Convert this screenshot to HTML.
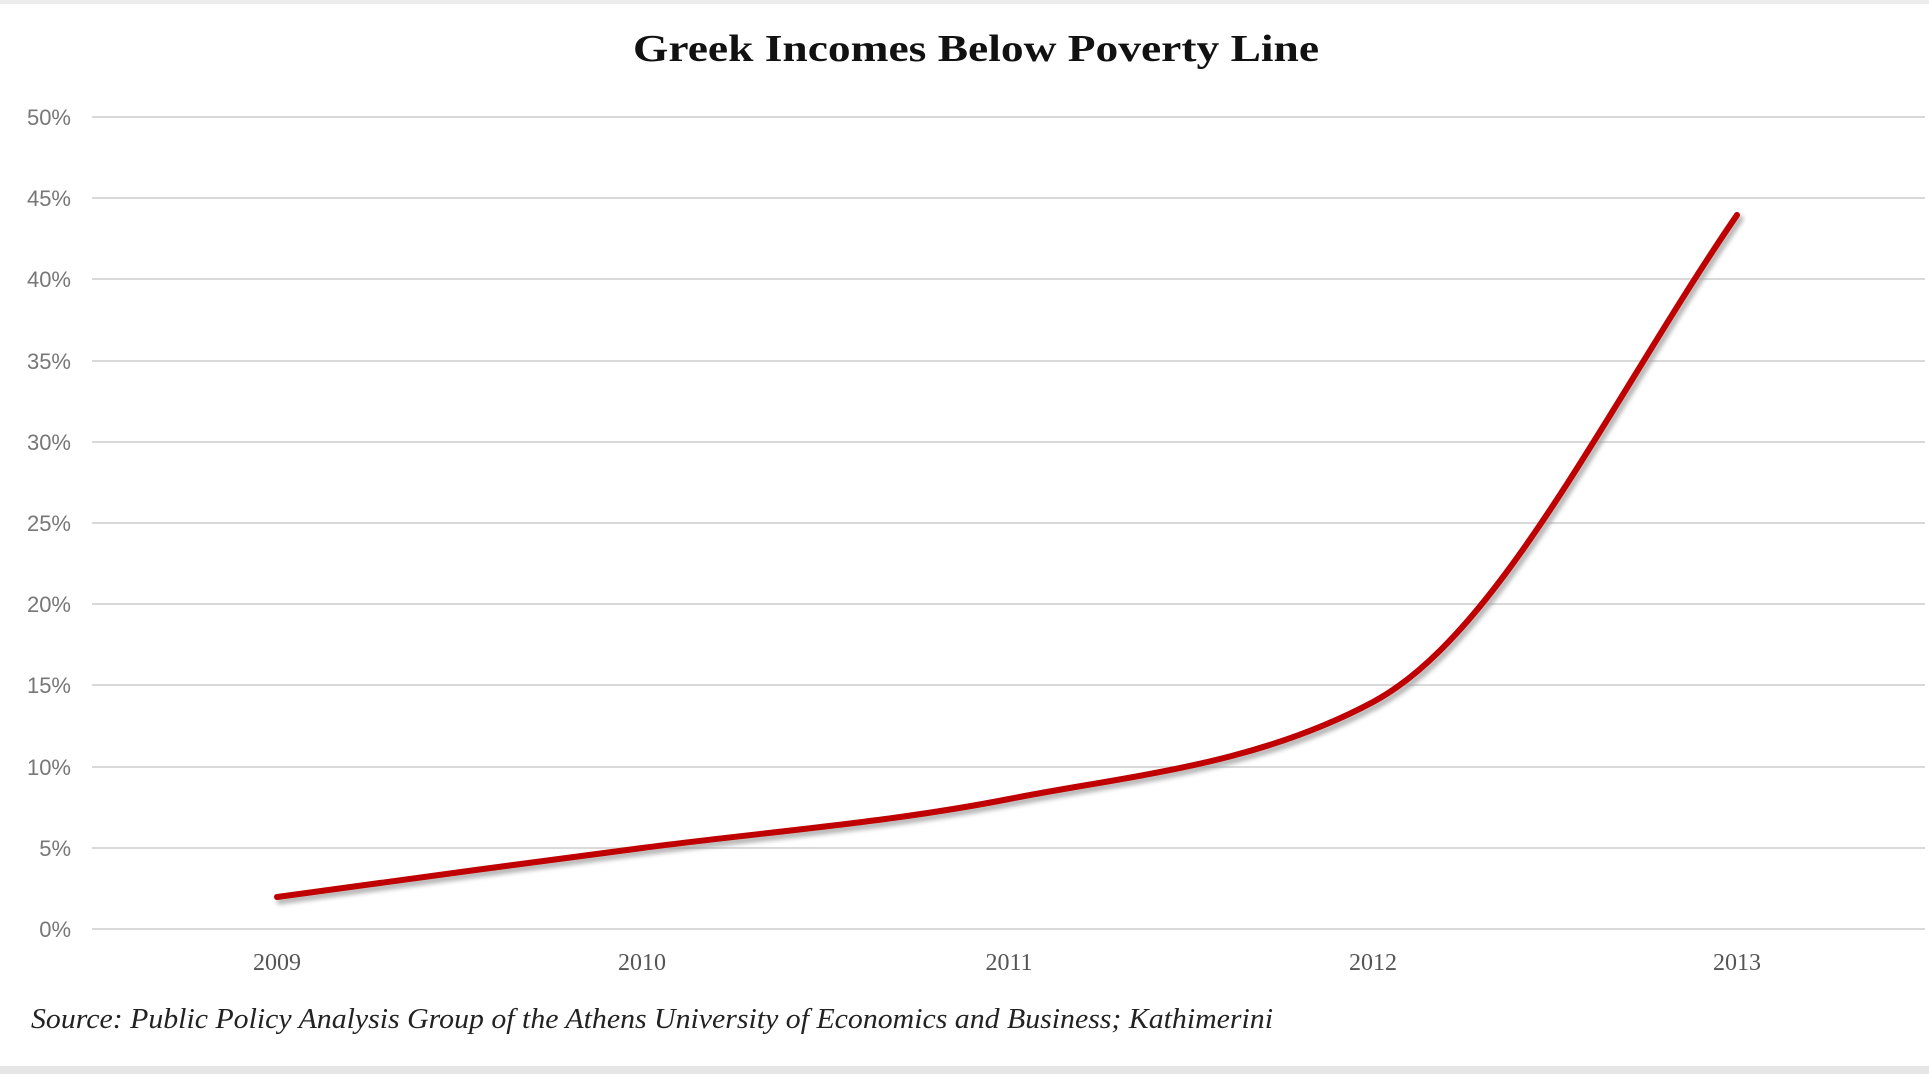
<!DOCTYPE html>
<html><head><style>
html,body{margin:0;padding:0;background:#fff;}
svg{display:block;}
</style></head><body>
<svg width="1929" height="1074" viewBox="0 0 1929 1074" xmlns="http://www.w3.org/2000/svg">
<defs>
<filter id="sh" x="-5%" y="-5%" width="110%" height="110%"><feGaussianBlur stdDeviation="2"/></filter>
</defs>
<rect x="0" y="0" width="1929" height="4" fill="#ececec"/>
<rect x="0" y="1066" width="1929" height="8" fill="#e6e6e6"/>
<text x="976" y="61" text-anchor="middle" font-family="Liberation Serif, serif" font-weight="bold" font-size="38" fill="#111" textLength="686" lengthAdjust="spacingAndGlyphs">Greek Incomes Below Poverty Line</text>
<g stroke="#d9d9d9" stroke-width="2">
<line x1="92" y1="117" x2="1925" y2="117"/>
<line x1="92" y1="198" x2="1925" y2="198"/>
<line x1="92" y1="279" x2="1925" y2="279"/>
<line x1="92" y1="361" x2="1925" y2="361"/>
<line x1="92" y1="442" x2="1925" y2="442"/>
<line x1="92" y1="523" x2="1925" y2="523"/>
<line x1="92" y1="604" x2="1925" y2="604"/>
<line x1="92" y1="685" x2="1925" y2="685"/>
<line x1="92" y1="767" x2="1925" y2="767"/>
<line x1="92" y1="848" x2="1925" y2="848"/>
<line x1="92" y1="929" x2="1925" y2="929"/>
</g>
<g font-family="Liberation Sans, sans-serif" font-size="22" fill="#777" text-anchor="end">
<text x="71" y="125">50%</text>
<text x="71" y="206">45%</text>
<text x="71" y="287">40%</text>
<text x="71" y="369">35%</text>
<text x="71" y="450">30%</text>
<text x="71" y="531">25%</text>
<text x="71" y="612">20%</text>
<text x="71" y="693">15%</text>
<text x="71" y="775">10%</text>
<text x="71" y="856">5%</text>
<text x="71" y="937">0%</text>
</g>
<g font-family="Liberation Serif, serif" font-size="24" fill="#555" text-anchor="middle">
<text x="277" y="970">2009</text>
<text x="642" y="970">2010</text>
<text x="1009" y="970">2011</text>
<text x="1373" y="970">2012</text>
<text x="1737" y="970">2013</text>
</g>
<path d="M277,897 C399,880 520,864 642,848 C764,832 887,823 1009,799 C1131,775 1253,766 1373,702 C1500,634 1610,400 1737,215" fill="none" stroke="#999" stroke-width="7" stroke-linecap="round" transform="translate(3,4)" filter="url(#sh)" opacity="0.7"/>
<path d="M277,897 C399,880 520,864 642,848 C764,832 887,823 1009,799 C1131,775 1253,766 1373,702 C1500,634 1610,400 1737,215" fill="none" stroke="#c00000" stroke-width="6" stroke-linecap="round"/>
<text x="31" y="1028" font-family="Liberation Serif, serif" font-style="italic" font-size="28" fill="#222" textLength="1242" lengthAdjust="spacingAndGlyphs">Source: Public Policy Analysis Group of the Athens University of Economics and Business; Kathimerini</text>
</svg>
</body></html>
